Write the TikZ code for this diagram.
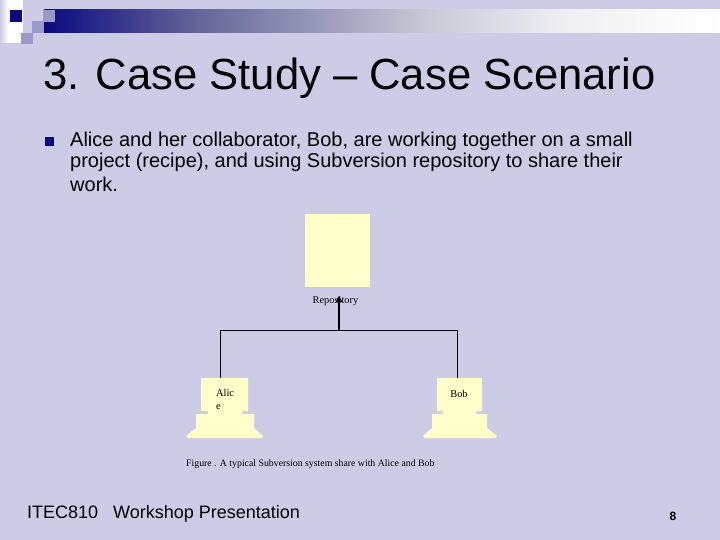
\documentclass[tikz,border=0pt]{standalone}
\usepackage{fontspec}
\setmainfont{Liberation Sans}
\newfontfamily\serifcap{Liberation Serif}
\definecolor{bgc}{HTML}{CCCCE6}
\definecolor{navyc}{HTML}{0A0A80}
\definecolor{midc}{HTML}{66669A}
\definecolor{greyc}{HTML}{C8C8D6}
\definecolor{pale}{HTML}{F0F0F4}
\definecolor{sqc}{HTML}{9999CC}
\definecolor{creamc}{HTML}{FFFFCC}
\tikzset{
  shape fill/.style={fill=creamc,draw=none},
  small/.style={font=\serifcap\fontsize{10.4}{11}\selectfont,inner sep=0pt,text=black},
  link/.style={draw=black,line width=0.9pt},
  body/.style={font=\fontsize{20}{22}\selectfont,anchor=base west,inner sep=0pt,text=black},
}
\begin{document}
\begin{tikzpicture}[x=1pt,y=-1pt]
\useasboundingbox (0,0) rectangle (720,540);
\fill[bgc] (0,0) rectangle (720,540);
% header decoration
\fill[white] (8,0) rectangle (23,43);
\shade[left color=bgc,right color=white] (0,0) rectangle (8,43);
\shade[left color=navyc,right color=midc,draw=none] (44,10) rectangle (200,33);
\shade[left color=midc,right color=greyc,draw=none] (199.5,10) rectangle (425,33);
\shade[left color=greyc,right color=pale,draw=none] (424.5,10) rectangle (570,33);
\shade[left color=pale,right color=white,draw=none] (569.5,10) rectangle (720,33);
\fill[navyc] (10,10) rectangle (22,22);
\fill[sqc] (43,10) rectangle (55,22);
\fill[sqc] (32,21) rectangle (44,33);
\fill[sqc] (21,33) rectangle (33,44);
% title
\node[font=\fontsize{43.6}{46}\selectfont,anchor=base west,inner sep=0pt] (title) at (43,90) {3. Case Study – Case Scenario};
% bullet
\fill[navyc] (45,137) rectangle (54,146);
\node[body] (l1) at (70,146.7) {Alice and her collaborator, Bob, are working together on a small};
\node[body] (l2) at (70,167.5) {project (recipe), and using Subversion repository to share their};
\node[body] (l3) at (70,191.5) {work.};
% repository
\node[shape fill,minimum width=65pt,minimum height=73pt,inner sep=0pt] (repo) at (337.5,250.5) {};
\node[small] (repolabel) at (335.5,301) {Repository};
% computers
\fill[creamc] (201,378) -- (248,378) -- (248,411) -- (242,411) -- (242,414) -- (254,414) -- (254,428) -- (263,436) -- (261,438) -- (188,438) -- (186,436) -- (196,428) -- (196,414) -- (208,414) -- (208,411) -- (201,411) -- cycle;
\fill[creamc] (437,378) -- (482,378) -- (482,411) -- (476,411) -- (476,414) -- (487,414) -- (487,428) -- (497,436) -- (495,438) -- (425,438) -- (423,436) -- (432,428) -- (432,414) -- (443,414) -- (443,411) -- (437,411) -- cycle;
\coordinate (alicetop) at (220.5,378);
\coordinate (bobtop) at (457.5,378);
\coordinate (hub) at (339,330.5);
\coordinate (tip) at (339,297);
\node[small,anchor=base west] (alice1) at (216,396.5) {Alic};
\node[small,anchor=base west] (alice2) at (216,409) {e};
\node[small] (bob) at (459,393.5) {Bob};
\node[small,anchor=west,font=\serifcap\fontsize{9.8}{11}\selectfont] (caption) at (186,464) {Figure . A typical Subversion system share with Alice and Bob};
% connectors
\draw[link] (alicetop) -- (alicetop |- hub) -- (bobtop |- hub) -- (bobtop);
\draw[line width=2.2pt,draw=black] (hub) -- (tip);
\fill[black] (339,296) -- (342.5,302) -- (335.5,302) -- cycle;
% footer
\node[font=\fontsize{18}{20}\selectfont,anchor=base west,inner sep=0pt] (footer) at (27,518) {ITEC810 \ \ Workshop Presentation};
\node[font=\bfseries\fontsize{12}{13}\selectfont,anchor=base,inner sep=0pt] (page) at (673,520.5) {8};
\end{tikzpicture}
\end{document}
